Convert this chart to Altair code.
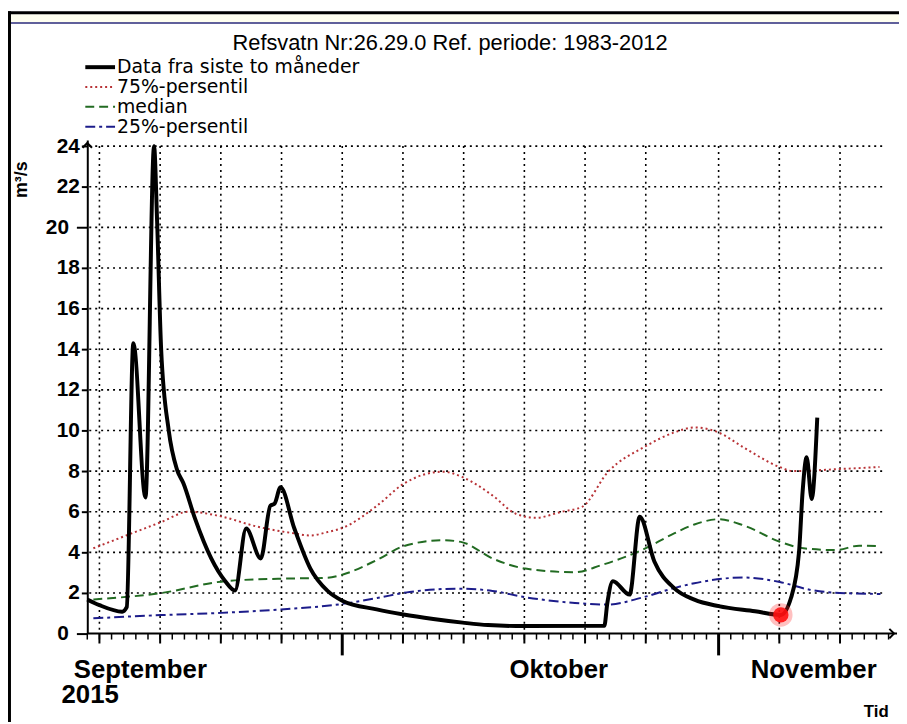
import altair as alt
import pandas as pd

# ---------------- data ----------------
obs_time = ["2015-09-10T00:00", "2015-09-11T00:00", "2015-09-12T21:00", "2015-09-13T06:00",
            "2015-09-13T19:00", "2015-09-14T19:00", "2015-09-15T12:00", "2015-09-15T18:00",
            "2015-09-16T02:00", "2015-09-16T17:00", "2015-09-17T09:00", "2015-09-17T22:00",
            "2015-09-18T21:00", "2015-09-20T05:00", "2015-09-21T08:00", "2015-09-22T04:00",
            "2015-09-23T02:00", "2015-09-24T07:00", "2015-09-25T02:00", "2015-09-25T10:00",
            "2015-09-25T22:00", "2015-09-27T01:00", "2015-09-28T09:00", "2015-09-29T19:00",
            "2015-10-01T00:00", "2015-10-03T20:00", "2015-10-06T01:00", "2015-10-08T12:00",
            "2015-10-10T22:00", "2015-10-13T00:00", "2015-10-16T00:00", "2015-10-22T14:00",
            "2015-10-22T20:00", "2015-10-23T07:00", "2015-10-24T16:00", "2015-10-25T12:00",
            "2015-10-26T17:00", "2015-10-28T08:00", "2015-10-30T00:00", "2015-11-01T00:00",
            "2015-11-04T00:00", "2015-11-06T03:00", "2015-11-06T23:00", "2015-11-07T15:00",
            "2015-11-07T22:00", "2015-11-08T06:00", "2015-11-08T16:00", "2015-11-09T03:00"]
obs_value = [1.68, 1.40, 1.08, 1.30,
             14.3, 6.7, 24.0, 20.3,
             14.0, 10.0, 8.1, 7.4,
             5.66, 3.7, 2.6, 2.12,
             5.17, 3.7, 6.3, 6.39,
             7.2, 5.2, 3.2, 2.1,
             1.62, 1.19, 0.94, 0.72,
             0.54, 0.42, 0.37, 0.38,
             1.5, 2.58, 1.92, 5.75,
             3.55, 2.24, 1.67, 1.35,
             1.10, 0.92, 1.75, 4.03,
             6.97, 8.68, 6.63, 10.63]

p75_time = ["2015-09-10T12:00", "2015-09-16T03:00", "2015-09-18T08:00", "2015-09-20T19:00",
            "2015-09-24T01:00", "2015-09-27T02:00", "2015-09-28T09:00", "2015-09-29T19:00",
            "2015-10-01T00:00", "2015-10-03T21:00", "2015-10-06T01:00", "2015-10-09T07:00",
            "2015-10-10T22:00", "2015-10-13T09:00", "2015-10-15T07:00", "2015-10-16T22:00",
            "2015-10-19T02:00", "2015-10-20T18:00", "2015-10-22T21:00", "2015-10-25T22:00",
            "2015-10-28T08:00", "2015-10-30T00:00", "2015-11-01T00:00", "2015-11-03T01:00",
            "2015-11-06T01:00", "2015-11-07T03:00", "2015-11-10T23:00", "2015-11-14T06:00"]
p75_value = [4.2, 5.5, 6.0, 5.8,
             5.26, 4.93, 4.83, 5.0,
             5.2, 6.3, 7.37, 7.97,
             7.7, 6.8, 5.9, 5.7,
             6.0, 6.24, 7.95, 9.2,
             9.9, 10.15, 9.9, 9.17,
             8.2, 8.0, 8.1, 8.2]

med_time = ["2015-09-10T12:00", "2015-09-16T03:00", "2015-09-21T08:00", "2015-09-25T17:00",
            "2015-09-29T19:00", "2015-10-01T00:00", "2015-10-03T21:00", "2015-10-06T01:00",
            "2015-10-09T07:00", "2015-10-10T22:00", "2015-10-13T09:00", "2015-10-16T02:00",
            "2015-10-20T04:00", "2015-10-22T09:00", "2015-10-25T15:00", "2015-10-28T08:00",
            "2015-10-30T00:00", "2015-11-01T00:00", "2015-11-03T01:00", "2015-11-06T01:00",
            "2015-11-08T00:00", "2015-11-10T16:00", "2015-11-12T14:00", "2015-11-14T08:00"]
med_value = [1.68, 2.0, 2.58, 2.7,
             2.75, 2.9, 3.63, 4.3,
             4.6, 4.49, 3.7, 3.2,
             3.02, 3.38, 4.1, 4.93,
             5.37, 5.63, 5.33, 4.52,
             4.2, 4.11, 4.33, 4.3]

p25_time = ["2015-09-10T12:00", "2015-09-16T01:00", "2015-09-21T01:00", "2015-09-25T23:00",
            "2015-10-01T00:00", "2015-10-03T21:00", "2015-10-06T13:00", "2015-10-10T15:00",
            "2015-10-13T09:00", "2015-10-16T02:00", "2015-10-20T04:00", "2015-10-22T21:00",
            "2015-10-25T15:00", "2015-10-28T08:00", "2015-10-30T00:00", "2015-11-03T01:00",
            "2015-11-06T01:00", "2015-11-08T12:00", "2015-11-10T23:00", "2015-11-14T08:00"]
p25_value = [0.75, 0.91, 1.02, 1.19,
             1.46, 1.75, 2.05, 2.21,
             2.1, 1.79, 1.51, 1.43,
             1.76, 2.24, 2.48, 2.76,
             2.54, 2.16, 2.0, 1.95]

marker_time = ["2015-11-06T03:00"]
marker_value = [0.92]

month_labels = ["September", "Oktober", "November"]
month_label_time = ["2015-09-14T09:00", "2015-10-18T20:00", "2015-11-08T20:00"]
year_label = "2015"
y_tick_values = list(range(0, 25, 2))
grid_y_values = list(range(2, 25, 2))

title_text = "Refsvatn Nr:26.29.0 Ref. periode: 1983-2012"
legend_labels = ["Data fra siste to måneder", "75%-persentil", "median", "25%-persentil"]

# ---------------- styling ----------------
W, H = 817, 498
FONT = "Liberation Sans"
C_OBS, C_P75, C_MED, C_P25 = "#000000", "#b83236", "#226b22", "#1c1c8a"
D_P75, D_MED, D_P25 = [2, 3], [9, 5], [10, 4, 3, 4]

x_scale = alt.Scale(domain=[alt.DateTime(year=2015, month=9, date=10),
                            alt.DateTime(year=2015, month=11, date=15, hours=16, minutes=40)])
y_scale = alt.Scale(domain=[0, 24.3], nice=False, zero=False)

LONG = "datum.value == 0 || datum.value == 20"
Y_AXIS = alt.Axis(values=y_tick_values, title=None, grid=False, labelFont=FONT,
                  labelFontSize=21, labelFontWeight="bold", labelColor="black",
                  domainColor="black", domainWidth=2, tickColor="black", tickWidth=2,
                  tickSize={"condition": {"test": LONG, "value": 11}, "value": 6},
                  labelPadding={"condition": {"test": LONG, "value": 8}, "value": 2})


def X(field="t"):
    return alt.X(f"{field}:T", scale=x_scale, axis=None)


def Y(field="v"):
    return alt.Y(f"{field}:Q", scale=y_scale, axis=Y_AXIS)


# tick positions along the time axis
daily = pd.DataFrame({"t": pd.date_range("2015-09-10", "2015-11-15", freq="D").strftime("%Y-%m-%dT%H:%M")})
five_day = ["2015-09-11T00:00", "2015-09-16T00:00", "2015-09-21T00:00", "2015-09-26T00:00",
            "2015-10-06T00:00", "2015-10-11T00:00", "2015-10-16T00:00", "2015-10-21T00:00",
            "2015-10-26T00:00", "2015-11-06T00:00", "2015-11-11T00:00"]
month_start = ["2015-10-01T00:00", "2015-11-01T00:00"]
vgrid = pd.DataFrame({"t": sorted(five_day + month_start)})
vgrid["top"] = 24
vgrid["bottom"] = 0

one = pd.DataFrame({"a": [0]})
layers = []

# frame decorations
layers.append(alt.Chart(one).mark_rect(color="#fffff0").encode(
    x=alt.value(-78), x2=alt.value(W + 2), y=alt.value(-127), y2=alt.value(-119)))
layers.append(alt.Chart(one).mark_rule(color="#2b2b7a", strokeWidth=1.5).encode(
    x=alt.value(-78), x2=alt.value(W + 2), y=alt.value(-118)))
layers.append(alt.Chart(one).mark_rule(color="black", strokeWidth=3).encode(
    x=alt.value(-80), x2=alt.value(W + 2), y=alt.value(-128.5)))
layers.append(alt.Chart(one).mark_rule(color="black", strokeWidth=3).encode(
    x=alt.value(-78.5), y=alt.value(-130), y2=alt.value(H + 90)))

# horizontal grid (carries the y axis)
hgrid = pd.DataFrame({"v": grid_y_values})
layers.append(alt.Chart(hgrid).mark_rule(color="black", strokeDash=[2, 4], strokeWidth=1.6).encode(
    y=Y("v"), x=alt.value(2), x2=alt.value(806)))

# vertical grid
layers.append(alt.Chart(vgrid).mark_rule(color="black", strokeDash=[2, 4], strokeWidth=1.6).encode(
    x=X(), y=Y("top"), y2="bottom:Q"))

# x axis line, ticks
layers.append(alt.Chart(one).mark_rule(color="black", strokeWidth=2).encode(
    x=alt.value(0), x2=alt.value(W), y=alt.value(H)))
layers.append(alt.Chart(daily).mark_rule(color="black", strokeWidth=1.5).encode(
    x=X(), y=alt.value(H), y2=alt.value(H + 6)))
layers.append(alt.Chart(pd.DataFrame({"t": five_day})).mark_rule(color="black", strokeWidth=2).encode(
    x=X(), y=alt.value(H), y2=alt.value(H + 10)))
layers.append(alt.Chart(pd.DataFrame({"t": month_start})).mark_rule(color="black", strokeWidth=3).encode(
    x=X(), y=alt.value(H), y2=alt.value(H + 22)))

# axis arrows
layers.append(alt.Chart(one).mark_point(
    shape="M -1 1 L 0 0 L 1 1", filled=False, color="black", strokeWidth=2, size=90, opacity=1).encode(
    x=alt.value(0), y=alt.value(3)))
layers.append(alt.Chart(one).mark_point(
    shape="M -1 -1 L 0 0 L -1 1", filled=False, color="black", strokeWidth=2, size=90, opacity=1).encode(
    x=alt.value(W - 3), y=alt.value(H)))


# series
def series(times, values, color, dash, width):
    df = pd.DataFrame({"t": times, "v": values})
    kw = dict(color=color, strokeWidth=width, interpolate="monotone")
    if dash:
        kw["strokeDash"] = dash
    return alt.Chart(df).mark_line(**kw).encode(x=X(), y=Y())


layers.append(series(p75_time, p75_value, C_P75, D_P75, 2))
layers.append(series(med_time, med_value, C_MED, D_MED, 2))
layers.append(series(p25_time, p25_value, C_P25, D_P25, 2))
layers.append(series(obs_time, obs_value, C_OBS, None, 4))

mk = pd.DataFrame({"t": marker_time, "v": marker_value})
layers.append(alt.Chart(mk).mark_circle(color="#ff3030", opacity=0.3, size=560).encode(x=X(), y=Y()))
layers.append(alt.Chart(mk).mark_circle(color="#ff1010", opacity=0.9, size=240).encode(x=X(), y=Y()))

# month labels
ml = pd.DataFrame({"t": month_label_time, "label": month_labels})
layers.append(alt.Chart(ml).mark_text(font=FONT, fontSize=26, fontWeight="bold", color="black",
                                      baseline="alphabetic", align="center").encode(
    x=X(), y=alt.value(H + 45), text="label:N"))


# free texts
def label(txt, x, y, size, weight="normal", align="left", angle=0, baseline="middle", font=FONT):
    kw = dict(font=font, fontSize=size, fontWeight=weight, color="black", align=align,
              baseline=baseline, text=txt)
    if angle:
        kw["angle"] = angle
    return alt.Chart(one).mark_text(**kw).encode(x=alt.value(x), y=alt.value(y))


layers.append(label(year_label, -26, H + 70, 26, "bold", baseline="alphabetic"))
layers.append(label("Tid", 796, H + 84, 17, "bold", align="center", baseline="alphabetic"))
layers.append(label("m³/s", -66, 40, 18, "bold", align="center", angle=270))
layers.append(label(title_text, 366, -98, 22, align="center"))

# legend
leg_y = [-73.5, -53.5, -33.5, -13.5]
leg_styles = [(C_OBS, None, 4), (C_P75, D_P75, 2), (C_MED, D_MED, 2), (C_P25, D_P25, 2)]
for txt, yy, (col, dash, wd) in zip(legend_labels, leg_y, leg_styles):
    kw = dict(color=col, strokeWidth=wd)
    if dash:
        kw["strokeDash"] = dash
    layers.append(alt.Chart(one).mark_rule(**kw).encode(
        x=alt.value(-2), x2=alt.value(28), y=alt.value(yy)))
    layers.append(label(txt, 30, yy, 19, font="DejaVu Sans"))

chart = alt.layer(*layers).properties(
    width=W, height=H,
    autosize=alt.AutoSizeParams(type="none"),
    padding={"left": 80, "top": 130, "right": 2, "bottom": 86},
    background="white",
).configure_view(stroke=None)

chart.save("out.html", embed_options={"renderer": "svg", "actions": False})
